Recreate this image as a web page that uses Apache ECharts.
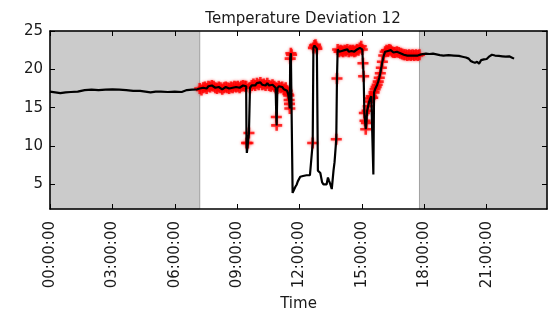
<!DOCTYPE html>
<html>
<head>
<meta charset="utf-8">
<script src="https://cdn.jsdelivr.net/npm/echarts@6/dist/echarts.min.js"></script>
<style>
  html, body { margin: 0; padding: 0; background: #fff; }
  #chart { width: 548px; height: 317px; }
</style>
</head>
<body>
<div id="chart"></div>
<script>
// ── data ──
const times = [
  "00:00","00:15","00:30","00:45","01:00","01:20","01:40","02:00","02:20","02:40",
  "03:00","03:20","03:40","04:00","04:20","04:35","04:50","05:05","05:20","05:40",
  "06:00","06:20","06:35","06:50","07:05",
  "07:12","07:17","07:22","07:27","07:32","07:37","07:42","07:47","07:52","07:57",
  "08:02","08:07","08:12","08:17","08:22","08:27","08:32","08:37","08:42","08:47",
  "08:52","08:57","09:02","09:07","09:12","09:17","09:22","09:26","09:27","09:28",
  "09:31","09:34","09:37","09:42","09:47","09:52","09:57","10:02","10:07","10:12",
  "10:17","10:22","10:27","10:32","10:37","10:42","10:47","10:51","10:53","10:54",
  "10:56","11:00","11:05","11:10","11:15","11:20","11:24","11:27","11:29","11:30",
  "11:31","11:32","11:33","11:35","11:37","11:40","11:42","11:45","11:48","11:52",
  "11:55","11:58","12:02","12:06","12:10","12:15","12:20","12:25","12:30","12:35",
  "12:38","12:40","12:43","12:46","12:48","12:50","12:53","12:57","13:00","13:05",
  "13:09","13:14","13:18","13:22","13:25","13:29","13:33","13:36","13:38","13:41",
  "13:43","13:46","13:48","13:50","13:54","13:58","14:02","14:06","14:10","14:14",
  "14:18","14:22","14:26","14:30","14:34","14:38","14:42","14:46","14:50","14:54",
  "14:58","15:01","15:03","15:05","15:07","15:09","15:11","15:13","15:15","15:18",
  "15:21","15:24","15:27","15:31","15:33","15:35","15:38","15:41","15:44","15:47",
  "15:50","15:53","15:56","15:59","16:03","16:07","16:11","16:15","16:19","16:23",
  "16:27","16:31","16:36","16:41","16:46","16:51","16:56","17:01","17:06","17:11",
  "17:16","17:21","17:26","17:31","17:36","17:41","17:46",
  "17:51","17:56","18:05","18:15","18:25","18:35","18:45","18:55","19:10","19:25",
  "19:40","19:50","20:00","20:08","20:14","20:20","20:26","20:32","20:38","20:44",
  "20:52","21:00","21:08","21:15","21:24","21:35","21:45","21:55","22:05","22:12",
  "22:19"
];
const temps = [
  17.1,17.0,16.9,17.0,17.05,17.1,17.3,17.35,17.3,17.35,
  17.4,17.35,17.3,17.2,17.2,17.1,17.0,17.1,17.1,17.05,
  17.1,17.05,17.3,17.35,17.4,
  17.5,17.3,17.6,17.7,17.5,17.8,17.7,17.9,17.8,17.6,
  17.5,17.7,17.6,17.4,17.6,17.7,17.6,17.5,17.7,17.6,
  17.8,17.7,17.8,17.6,17.8,17.9,17.8,17.8,10.4,9.1,
  10.4,11.7,17.6,17.9,18.1,17.9,18.2,18.0,18.3,18.0,
  18.1,17.9,18.2,17.9,17.8,18.0,17.8,17.6,13.8,12.7,
  17.5,17.8,17.6,17.7,17.4,17.6,17.2,16.8,16.6,16.0,
  15.5,14.9,21.4,22.1,21.9,3.9,3.7,4.4,4.7,5.0,
  5.4,5.5,6.0,5.9,6.1,6.0,6.2,6.1,6.2,6.3,
  10.4,22.8,23.1,23.2,22.9,22.7,6.8,6.6,6.5,5.3,
  5.0,4.8,5.0,5.9,5.5,5.0,4.4,4.2,6.8,7.9,
  8.0,10.9,18.8,22.6,22.3,22.5,22.4,22.3,22.5,22.4,
  22.6,22.3,22.5,22.4,22.5,22.3,22.4,22.6,22.5,22.8,
  23.0,22.6,20.8,19.1,14.3,13.3,12.2,13.0,14.6,15.2,
  15.8,16.2,16.5,16.3,6.3,17.0,17.4,17.7,18.0,18.4,
  18.9,19.5,20.2,21.0,21.8,22.3,22.5,22.4,22.6,22.5,
  22.3,22.2,22.2,22.3,22.2,22.1,22.0,21.9,21.9,21.8,
  21.9,21.8,21.9,21.8,21.9,21.8,21.9,
  21.95,22.0,22.05,22.0,22.05,21.95,21.85,21.8,21.85,21.8,
  21.75,21.65,21.55,21.4,21.1,20.95,20.85,21.0,20.75,21.2,
  21.3,21.35,21.7,21.9,21.8,21.75,21.7,21.65,21.7,21.55,
  21.4
];
// shaded (gray) spans of the day
const shadeStarts = ["00:00", "17:46"];
const shadeEnds = ["07:12", "23:54"];
// window in which readings are flagged with red "+" markers, and flag threshold
const flagWindow = ["07:12", "17:47"];
const flagMin = 10;
// axis ticks
const xTicks = [0, 3, 6, 9, 12, 15, 18, 21];
const yTicks = [5, 10, 15, 20, 25];

// ── helpers ──
function toHours(s) {
  const [h, m] = s.split(":").map(Number);
  return h + m / 60;
}
function fmtTick(v) {
  return String(v).padStart(2, "0") + ":00:00";
}

const linePoints = times.map((t, i) => [toHours(t), temps[i]]);
const w0 = toHours(flagWindow[0]);
const w1 = toHours(flagWindow[1]);
const flagPoints = linePoints.filter((p) => p[0] >= w0 && p[0] <= w1 && p[1] >= flagMin);
const shadeAreas = shadeStarts.map((s, i) => [
  { xAxis: toHours(s) },
  { xAxis: toHours(shadeEnds[i]) },
]);

const FONT = "DejaVu Sans";
const TXT = "#1a1a1a";
const xMin = 0;
const xMax = toHours(shadeEnds[1]);
const yMin = 1.8;
const yMax = 25;

const chart = echarts.init(document.getElementById("chart"), null, { renderer: "canvas" });

const frameLine = { show: true, onZero: false, lineStyle: { color: "#000", width: 1.5 } };
const tickStyle = { show: true, inside: true, length: 5, lineStyle: { color: "#000", width: 1 } };

chart.setOption({
  animation: false,
  backgroundColor: "#fff",
  title: {
    text: "Temperature Deviation 12",
    left: 298,
    textAlign: "center",
    top: 7,
    textStyle: { fontFamily: FONT, fontSize: 15, fontWeight: "normal", color: TXT },
  },
  grid: { left: 50, right: 1, top: 31, bottom: 101, containLabel: false },
  xAxis: [
    {
      type: "value",
      position: "bottom",
      min: xMin,
      max: xMax,
      z: 4,
      axisLine: frameLine,
      axisTick: Object.assign({ customValues: xTicks }, tickStyle),
      splitLine: { show: false },
      axisLabel: {
        customValues: xTicks,
        rotate: 90,
        margin: 12,
        fontFamily: FONT,
        fontSize: 15,
        color: TXT,
        formatter: fmtTick,
      },
      name: "Time",
      nameLocation: "middle",
      nameGap: 88,
      nameTextStyle: { fontFamily: FONT, fontSize: 15, color: TXT },
    },
    {
      type: "value",
      position: "top",
      min: xMin,
      max: xMax,
      z: 4,
      axisLine: frameLine,
      axisTick: Object.assign({ customValues: xTicks }, tickStyle),
      splitLine: { show: false },
      axisLabel: { show: false },
    },
  ],
  yAxis: [
    {
      type: "value",
      position: "left",
      min: yMin,
      max: yMax,
      z: 4,
      axisLine: frameLine,
      axisTick: Object.assign({ customValues: yTicks }, tickStyle),
      splitLine: { show: false },
      axisLabel: {
        customValues: yTicks,
        margin: 7,
        fontFamily: FONT,
        fontSize: 15,
        color: TXT,
      },
    },
    {
      type: "value",
      position: "right",
      min: yMin,
      max: yMax,
      z: 4,
      axisLine: frameLine,
      axisTick: Object.assign({ customValues: yTicks }, tickStyle),
      splitLine: { show: false },
      axisLabel: { show: false },
    },
  ],
  series: [
    {
      name: "flagged",
      type: "scatter",
      data: flagPoints,
      symbol: "path://M4,0h2.4v4h4v2.4h-4v4h-2.4v-4h-4v-2.4h4z",
      symbolSize: 11,
      itemStyle: { color: "#ff0000", shadowColor: "rgba(255,0,0,0.6)", shadowBlur: 3 },
      z: 2,
      markArea: {
        silent: true,
        itemStyle: { color: "#cbcbcb", borderColor: "#a0a0a0", borderWidth: 1 },
        data: shadeAreas,
      },
    },
    {
      name: "temperature",
      type: "line",
      data: linePoints,
      showSymbol: false,
      lineStyle: { color: "#000", width: 2.2 },
      z: 3,
    },
  ],
});
</script>
</body>
</html>
